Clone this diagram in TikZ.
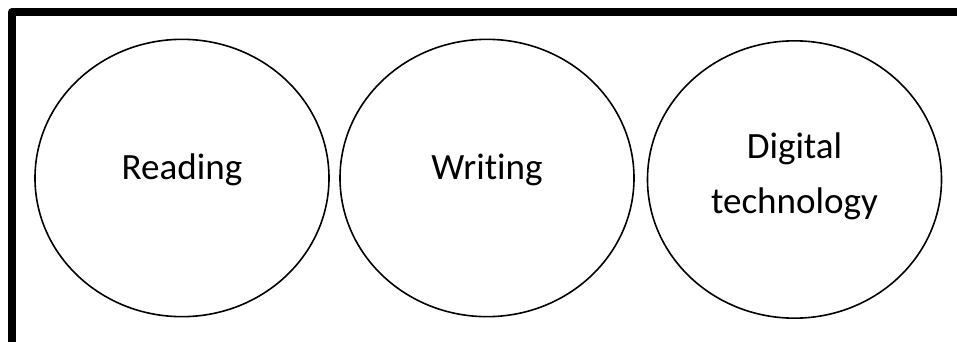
\documentclass[tikz,border=0pt]{standalone}
\usepackage{fontspec}
\setmainfont[Ligatures=NoCommon]{Carlito}
\usetikzlibrary{shapes.geometric}

\tikzset{
  bubble/.style={ellipse, draw, line width=1.2pt, inner sep=0pt,
                 minimum width=220.5pt, minimum height=208pt},
  word/.style={font=\fontsize{27.8}{41}\selectfont, inner sep=0pt, align=center}
}

\begin{document}
\begin{tikzpicture}[x=0.75pt, y=-0.75pt]
    \useasboundingbox (0,0) rectangle (957,342);
    \clip (0,0) rectangle (957,342);
    % frame, cut off at the right and at the bottom
    \draw[line width = 6pt, line join=round] (12,12) rectangle (966,345.5);
    % the three areas
    \node[bubble] (reading) at (182,178) {};
    \node[bubble] (writing) at (487,178) {};
    \node[bubble] (digital) at (794.5,179.5) {};
%    \node[bubble] (other) at (1100,178) {};
    \node[word, anchor=base] (readtxt) at ([yshift=-1.5pt]reading.center) {Reading};
    \node[word, anchor=base] (writetxt) at ([yshift=-1.5pt]writing.center) {Writing};
    \node[word] (digitxt) at ([yshift=2.6pt]digital.center) {Digital\\technology};
\end{tikzpicture}
\end{document}
